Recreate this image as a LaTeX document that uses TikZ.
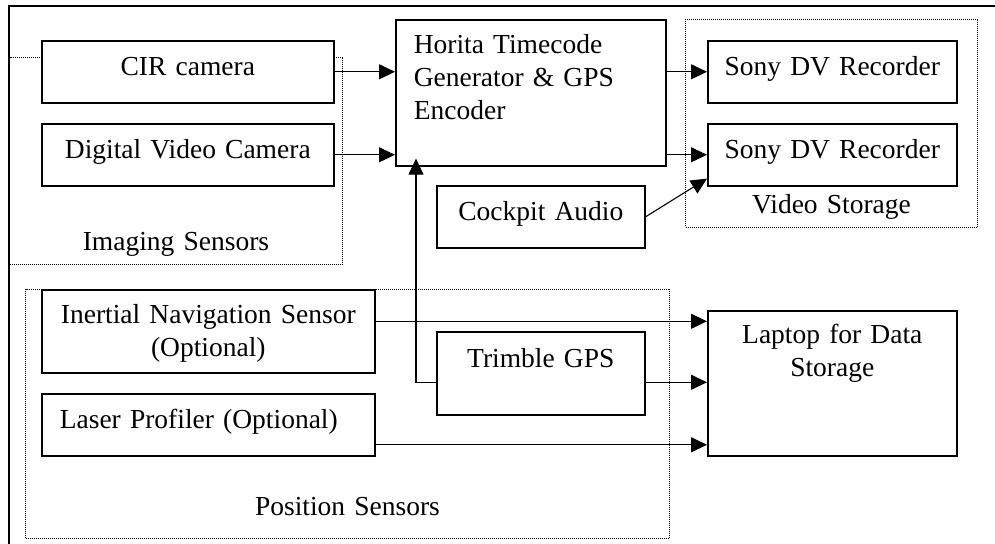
\documentclass[tikz,border=0pt]{standalone}
\usepackage{fontspec}
\setmainfont{Liberation Serif}
\usetikzlibrary{arrows.meta}
\tikzset{
    unit/.style={rectangle, draw, fill=white, line width=0.8pt, anchor=north west, inner xsep=9pt, inner ysep=0pt, align=center, text height=17.5pt},
    group/.style={rectangle, draw, fill=white, line width=0.5pt, dash pattern=on 0.5pt off 0.5pt, anchor=north west, inner sep=0pt, align=center},
    link/.style={line width=0.55pt, -{Triangle[length=8pt, width=7.5pt]}},
    rim/.style={line width=0.9pt},
}

\begin{document}
\begin{tikzpicture}[x=0.5pt, y=-0.5pt, font=\fontsize{13.75pt}{16.5pt}\selectfont]
                        \useasboundingbox (0,0) rectangle (995,544);
                        \draw[rim] (9,544) -- (9,6) -- (995,6);
                        \node [group, text width=166.5pt, text height=96.5pt, text depth=7pt] (imaging) at (9,57) {Imaging Sensors};
                        \node [group, text width=146pt, text height=97pt, text depth=7pt] (storage) at (685,19) {Video Storage};
                        \node [group, text width=322pt, text height=113pt, text depth=11.5pt] (position) at (25,289) {Position Sensors};
                        \node [unit, text width=128pt, text depth=13.5pt] (cir) at (41,40) {CIR camera};
                        \node [unit, text width=128pt, text depth=13.5pt] (dvc) at (41,123) {Digital Video Camera};
                        \node [unit, text width=117pt, text height=17pt, text depth=56pt, align=left] (horita) at (395,19) {Horita Timecode\\Generator \& GPS\\Encoder};
                        \node [unit, inner xsep=4pt, text width=116.5pt, text depth=13.5pt] (sony1) at (707,40) {Sony DV Recorder};
                        \node [unit, inner xsep=4pt, text width=116.5pt, text depth=13.5pt] (sony2) at (707,123) {Sony DV Recorder};
                        \node [unit, text width=86pt, text depth=13.5pt] (audio) at (436,185) {Cockpit Audio};
                        \node [unit, text width=148.5pt, text height=17pt, text depth=24.5pt] (ins) at (41,289) {Inertial Navigation Sensor\\(Optional)};
                        \node [unit, text width=148.5pt, text depth=13.5pt, align=left] (laser) at (41,393) {Laser Profiler (Optional)};
                        \node [unit, text width=86pt, text height=18pt, text depth=23.5pt] (gps) at (436,331) {Trimble GPS};
                        \node [unit, text width=106.5pt, text height=16.5pt, text depth=56pt] (laptop) at (707,310) {Laptop for Data\\Storage};
                        \coordinate (tap) at ([xshift=-10pt, yshift=-4.5pt]gps.west);
                        \draw[link] (cir.east) -- (cir.east -| horita.west);
                        \draw[link] (dvc.east) -- (dvc.east -| horita.west);
                        \draw[link] (horita.east |- sony1.west) -- (sony1.west);
                        \draw[link] (horita.east |- sony2.west) -- (sony2.west);
                        \draw[link] (audio.east) -- ([yshift=4pt]sony2.south west);
                        \draw[link] ([yshift=5pt]ins.east) -- ([yshift=5pt]ins.east -| laptop.west);
                        \draw[link] ([yshift=-4.5pt]gps.east) -- ([yshift=-4.5pt]gps.east -| laptop.west);
                        \draw[link] ([yshift=-10pt]laser.east) -- ([yshift=-10pt]laser.east -| laptop.west);
                        \draw[link, shorten >=-4pt] ([yshift=-4.5pt]gps.west) -- (tap) -- (tap |- horita.south);
                    \end{tikzpicture}
\end{document}
